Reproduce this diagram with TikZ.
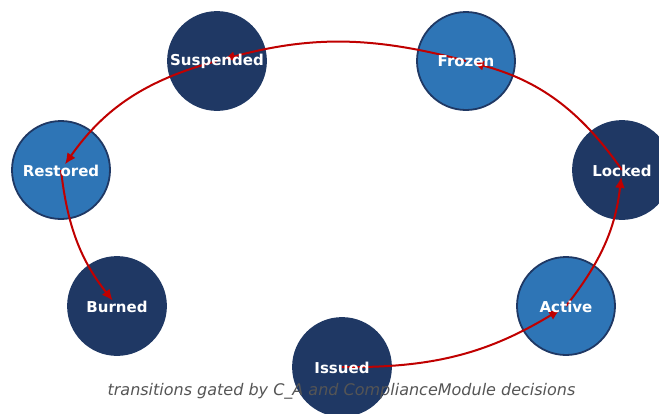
\documentclass[tikz,border=0pt]{standalone}
\usepackage{fontspec}
\setmainfont{DejaVu Sans}
\usetikzlibrary{arrows.meta}
\definecolor{darknode}{HTML}{1F3864}
\definecolor{lightnode}{HTML}{2E75B6}
\definecolor{edgered}{HTML}{C00000}
\definecolor{captiongray}{HTML}{555555}
\tikzset{
  state/.style={circle, minimum size=98pt, inner sep=0pt, draw=darknode, line width=1.8pt},
  darkstate/.style={state, fill=darknode},
  lightstate/.style={state, fill=lightnode},
  lbl/.style={text=white, font=\fontsize{15}{15}\selectfont\bfseries},
  trans/.style={draw=edgered, line width=2pt, -{Latex[length=11pt,width=10pt]}, shorten >=7pt, bend right=16},
}
\begin{document}
\begin{tikzpicture}[x=1pt,y=-1pt]
\useasboundingbox (0,0) rectangle (659,413);
\clip (0,0) rectangle (659,413);
% circles
\node[darkstate]  (susp) at (217,61) {};
\node[lightstate] (froz) at (466,61) {};
\node[lightstate] (rest) at (61,170) {};
\node[darkstate]  (lock) at (622,170) {};
\node[darkstate]  (burn) at (117,306) {};
\node[lightstate] (actv) at (566,306) {};
\node[darkstate]  (issu) at (342,367) {};
% transitions
\draw[trans] (issu.center) to (actv.center);
\draw[trans] (actv.center) to (lock.center);
\draw[trans, bend right=20] (lock.center) to (froz.center);
\draw[trans, bend right=15] (froz.center) to (susp.center);
\draw[trans, bend right=20] (susp.center) to (rest.center);
\draw[trans] (rest.center) to (burn.center);
% labels
\node[lbl] (tsusp) at ([yshift=-0.5pt]susp.center) {Suspended};
\node[lbl] (tfroz) at ([yshift=-0.5pt]froz.center) {Frozen};
\node[lbl] (trest) at ([yshift=-0.5pt]rest.center) {Restored};
\node[lbl] (tlock) at ([yshift=-0.5pt]lock.center) {Locked};
\node[lbl] (tburn) at ([yshift=-0.5pt]burn.center) {Burned};
\node[lbl] (tactv) at ([yshift=-0.5pt]actv.center) {Active};
\node[lbl] (tissu) at ([yshift=-0.5pt]issu.center) {Issued};
% caption
\node[text=captiongray, font=\fontsize{16}{16}\selectfont\itshape] (cap) at (341.5,391) {transitions gated by C\_A and ComplianceModule decisions};
\end{tikzpicture}
\end{document}
